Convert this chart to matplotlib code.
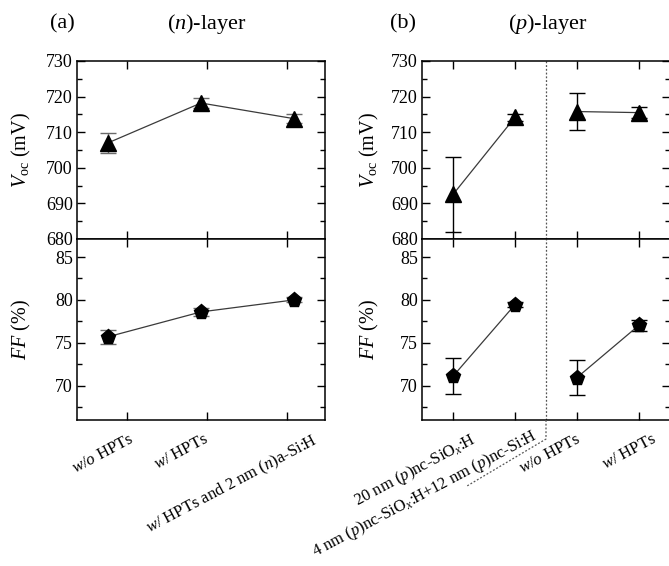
import matplotlib
matplotlib.use("Agg")
import matplotlib.pyplot as plt
from matplotlib.ticker import MultipleLocator
from matplotlib.lines import Line2D
import matplotlib.transforms as mtransforms

plt.rcParams['font.family'] = ['Liberation Serif', 'DejaVu Serif']
plt.rcParams['mathtext.fontset'] = 'custom'
plt.rcParams['mathtext.rm'] = 'Liberation Serif'
plt.rcParams['mathtext.it'] = 'Liberation Serif:italic'
plt.rcParams['mathtext.bf'] = 'Liberation Serif:bold'

# ---- data ----
n_labels = [r"$w/o$ HPTs", r"$w/$ HPTs", r"$w/$ HPTs and 2 nm ($n$)a-Si:H"]
n_voc = [707.0, 718.2, 713.8]
n_voc_err = [2.9, 1.4, 1.3]
n_ff = [75.7, 78.6, 80.0]
n_ff_err = [0.8, 0.5, 0.3]

p_labels = [r"20 nm ($p$)nc-SiO$_x$:H",
            r"4 nm ($p$)nc-SiO$_x$:H+12 nm ($p$)nc-Si:H",
            r"$w/o$ HPTs", r"$w/$ HPTs"]
p_voc = [692.5, 714.2, 715.8, 715.5]
p_voc_err = [10.5, 1.0, 5.2, 1.6]
p_ff = [71.1, 79.45, 70.95, 77.05]
p_ff_err = [2.1, 0.3, 2.05, 0.65]

# ---- layout ----
W, H = 669, 566
fig = plt.figure(figsize=(W / 100, H / 100), dpi=100)

def frac(x0, y0, x1, y1):
    return [x0 / W, 1 - y1 / H, (x1 - x0) / W, (y1 - y0) / H]

axL_top = fig.add_axes(frac(77, 61, 325, 239))
axL_bot = fig.add_axes(frac(77, 239, 325, 420))
axR_top = fig.add_axes(frac(422, 61, 670, 239))
axR_bot = fig.add_axes(frac(422, 239, 670, 420))

n_x = [0, 1, 2]
n_ticks = [0.205, 1.065, 1.925]
p_x = [0, 1, 2, 3]
p_ticks = [0, 1, 2, 3]
# nudges (px) of the rotated category labels
n_lab_dx = [2, -3, 24]
n_lab_dy = [-11, -11, -11]
p_lab_dx = [17, 16, -1, 13]
p_lab_dy = [-10, -6, -11, -11]

line_col = '#3a3a3a'

def style(ax, xlim, ticks, top, labels=None, lab_dx=None, lab_dy=None):
    ax.set_xlim(*xlim)
    ax.set_xticks(ticks)
    for s in ax.spines.values():
        s.set_linewidth(1.1)
    ax.tick_params(which='both', direction='in', top=True, right=True, bottom=True,
                   labelsize=13, width=1.0, pad=3)
    ax.tick_params(which='major', length=5.5)
    ax.tick_params(which='minor', length=3.5)
    ax.tick_params(axis='x', which='minor', bottom=False, top=False)
    ax.tick_params(labelbottom=False)
    if top:
        ax.set_ylim(680, 730)
        ax.yaxis.set_major_locator(MultipleLocator(10))
        ax.yaxis.set_minor_locator(MultipleLocator(5))
        ax.set_ylabel(r"$V_{\mathrm{oc}}$ (mV)", fontsize=14.5)
    else:
        ax.set_ylim(66, 87.1)
        ax.yaxis.set_major_locator(MultipleLocator(5))
        ax.yaxis.set_minor_locator(MultipleLocator(2.5))
        ax.set_ylabel(r"$FF$ (%)", fontsize=14.5)
        base = mtransforms.blended_transform_factory(ax.transData, ax.transAxes)
        for t, lab, dx, dy in zip(ticks, labels, lab_dx, lab_dy):
            tr = base + mtransforms.ScaledTranslation(dx / 100, dy / 100,
                                                      fig.dpi_scale_trans)
            ax.text(t, 0, lab, transform=tr, rotation=28, ha='right', va='top',
                    rotation_mode='anchor', fontsize=12.0, clip_on=False)

def plot_series(ax, xs, ys, es, marker, ecol, groups):
    for g in groups:
        ax.plot([xs[i] for i in g], [ys[i] for i in g], '-', color=line_col,
                lw=0.9, zorder=2)
    ax.errorbar(xs, ys, yerr=es, fmt='none', ecolor=ecol, elinewidth=1.0,
                capsize=5.8, capthick=1.0, zorder=1)
    ax.plot(xs, ys, linestyle='none', marker=marker, ms=11, color='black',
            mec='black', zorder=3)

plot_series(axL_top, n_x, n_voc, n_voc_err, '^', '#6a6a6a', [[0, 1, 2]])
plot_series(axL_bot, n_x, n_ff, n_ff_err, 'p', '#6a6a6a', [[0, 1, 2]])
plot_series(axR_top, p_x, p_voc, p_voc_err, '^', 'black', [[0, 1], [2, 3]])
plot_series(axR_bot, p_x, p_ff, p_ff_err, 'p', 'black', [[0, 1], [2, 3]])

style(axL_top, (-1 / 3, 7 / 3), n_ticks, True)
style(axL_bot, (-1 / 3, 7 / 3), n_ticks, False, n_labels, n_lab_dx, n_lab_dy)
style(axR_top, (-0.5, 3.5), p_ticks, True)
style(axR_bot, (-0.5, 3.5), p_ticks, False, p_labels, p_lab_dx, p_lab_dy)

for ax in (axL_top, axL_bot):
    ax.yaxis.set_label_coords(-0.176, 0.5)
for ax in (axR_top, axR_bot):
    ax.yaxis.set_label_coords(-0.166, 0.5)

# separator (dotted) between the two p-layer groups
sep_x = (p_x[1] + p_x[2]) / 2
dot = dict(color='#555555', lw=0.9, ls=(0, (1.5, 1.5)))
for ax in (axR_top, axR_bot):
    ax.axvline(sep_x, zorder=0, **dot)
fig.canvas.draw()
trans = mtransforms.blended_transform_factory(axR_bot.transData, axR_bot.transAxes)
p0 = trans.transform((sep_x, 0))
pts_x = [p0[0], p0[0], p0[0] - 79]
pts_y = [p0[1], p0[1] - 19, p0[1] - 66]
fig.add_artist(Line2D(pts_x, pts_y, transform=None, **dot))

# panel titles
fig.text(62 / W, 1 - 24 / H, "(a)", fontsize=16, ha='center', va='center')
fig.text(207 / W, 1 - 24 / H, r"($n$)-layer", fontsize=16, ha='center', va='center')
fig.text(403 / W, 1 - 24 / H, "(b)", fontsize=16, ha='center', va='center')
fig.text(548 / W, 1 - 24 / H, r"($p$)-layer", fontsize=16, ha='center', va='center')

fig.savefig("out.png", dpi=100)
